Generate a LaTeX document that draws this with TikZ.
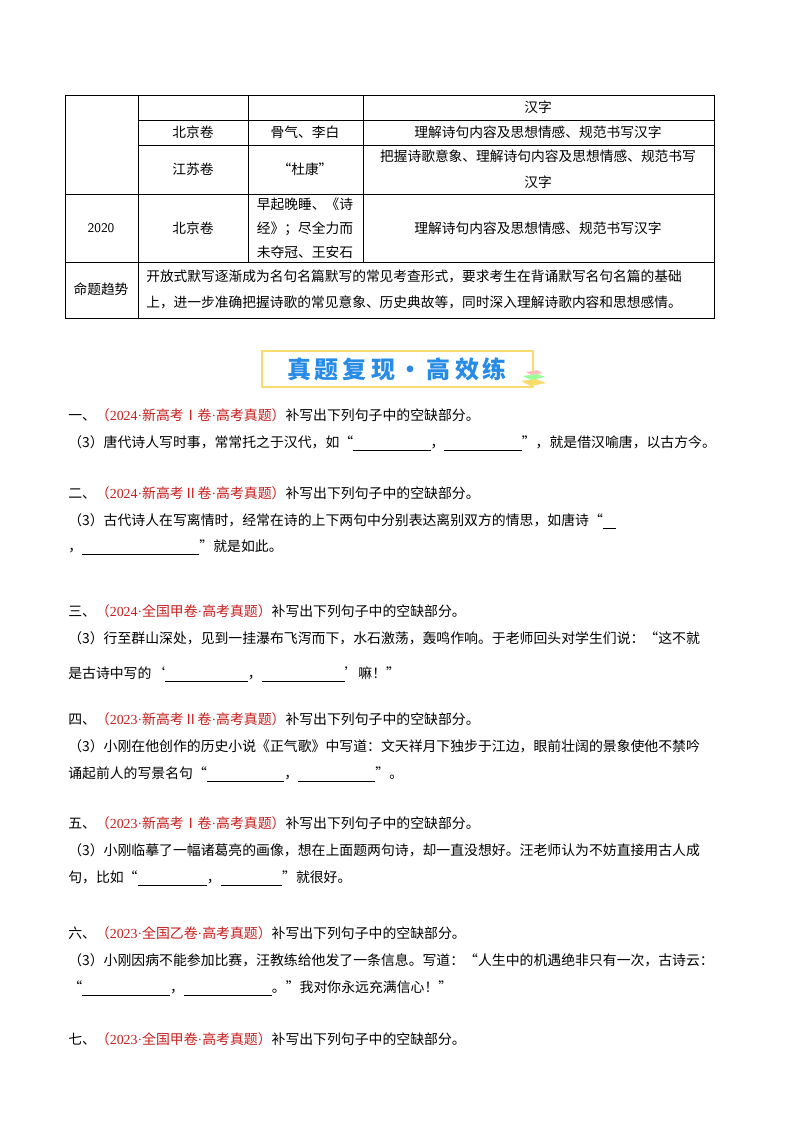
\documentclass[tikz,border=0pt]{standalone}
\usepackage{fontspec}
\setmainfont{Noto Sans CJK SC}
\newfontfamily\latinf{Liberation Serif}
\definecolor{redq}{RGB}{200,30,30}
\definecolor{bannerblue}{RGB}{40,140,230}
\definecolor{banneryel}{RGB}{250,220,110}
\newcommand{\blk}[1]{\rule[-2.5pt]{#1pt}{0.6pt}}
\newcommand{\dt}{{\latinf ·}}
\newcommand{\src}[3]{\textcolor{redq}{（{\latinf #1}\dt #2\dt 高考真题）}}
\begin{document}
\begin{tikzpicture}[x=0.75pt,y=-0.75pt,
  tab/.style={font=\fontsize{10.3pt}{12pt}\selectfont,inner sep=0pt,align=center},
  line/.style={anchor=base west,inner sep=0pt,font=\fontsize{10.4pt}{12pt}\selectfont},
  grid/.style={line width=0.6pt}]
\useasboundingbox[fill=white] (0,0) rectangle (800,1132);
% table
\draw[grid] (65,95) -- (714,95) -- (714,318) -- (65,318) -- cycle;
\draw[grid] (138,95) -- (138,318);
\draw[grid] (248,95) -- (248,262);
\draw[grid] (363,95) -- (363,262);
\draw[grid] (138,120) -- (714,120);
\draw[grid] (138,145) -- (714,145);
\draw[grid] (65,194) -- (714,194);
\draw[grid] (65,262) -- (714,262);
\node[tab] (c14) at (538,107) {汉字};
\node[tab] (c21) at (193,132) {北京卷};
\node[tab] (c22) at (305,132) {骨气、李白};
\node[tab] (c23) at (538,132) {理解诗句内容及思想情感、规范书写汉字};
\node[tab] (c31) at (193,169) {江苏卷};
\node[tab] (c32) at (305,169) {“杜康”};
\node[tab,text width=345pt,align=center,font=\fontsize{10.3pt}{19.5pt}\selectfont] (c33) at (538,169) {把握诗歌意象、理解诗句内容及思想情感、规范书写\\汉字};
\node[tab,font=\fontsize{10pt}{11pt}\selectfont\sffamily] (c40) at (101,228) {2020};
\node[tab] (c41) at (193,228) {北京卷};
\node[tab,font=\fontsize{10.3pt}{18pt}\selectfont] (c42) at (305,228) {早起晚睡、《诗\\经》；尽全力而\\未夺冠、王安石};
\node[tab] (c43) at (538,228) {理解诗句内容及思想情感、规范书写汉字};
\node[tab] (c51) at (101,289) {命题趋势};
\node[tab,anchor=west,align=left,font=\fontsize{10.3pt}{19.5pt}\selectfont] (c52) at (146,289) {开放式默写逐渐成为名句名篇默写的常见考查形式，要求考生在背诵默写名句名篇的基础\\上，进一步准确把握诗歌的常见意象、历史典故等，同时深入理解诗歌内容和思想感情。};
% banner
\draw[banneryel,fill=white,line width=0.8pt] (262,351) rectangle (533,387);
\node[font=\fontsize{18pt}{19pt}\selectfont\bfseries,text=bannerblue,inner sep=0pt] (ban) at (397,369) {真\,题\,复\,现\,·\,高\,效\,练};
\fill[banneryel] (521,381) -- (536,379) -- (546,383) -- (531,386) -- cycle;
\fill[green!40] (523,376) -- (537,374) -- (545,377) -- (531,380) -- cycle;
\fill[pink] (526,372) -- (537,370) -- (543,373) -- (531,375) -- cycle;
% questions
\node[line] (q1) at (68,420) {一、\src{2024}{新高考Ⅰ卷}{}补写出下列句子中的空缺部分。};
\node[line] (q1a) at (68,447) {（3）唐代诗人写时事，常常托之于汉代，如“\blk{58}，\blk{58}”，就是借汉喻唐，以古方今。};
\node[line] (q2) at (68,498) {二、\src{2024}{新高考Ⅱ卷}{}补写出下列句子中的空缺部分。};
\node[line] (q2a) at (68,525) {（3）古代诗人在写离情时，经常在诗的上下两句中分别表达离别双方的情思，如唐诗“\blk{10}};
\node[line] (q2b) at (68,551) {，\blk{88}”就是如此。};
\node[line] (q3) at (68,616) {三、\src{2024}{全国甲卷}{}补写出下列句子中的空缺部分。};
\node[line] (q3a) at (68,643) {（3）行至群山深处，见到一挂瀑布飞泻而下，水石激荡，轰鸣作响。于老师回头对学生们说：“这不就};
\node[line] (q3b) at (68,678) {是古诗中写的‘\blk{62}，\blk{62}’嘛！”};
\node[line] (q4) at (68,724) {四、\src{2023}{新高考Ⅱ卷}{}补写出下列句子中的空缺部分。};
\node[line] (q4a) at (68,751) {（3）小刚在他创作的历史小说《正气歌》中写道：文天祥月下独步于江边，眼前壮阔的景象使他不禁吟};
\node[line] (q4b) at (68,778) {诵起前人的写景名句“\blk{58}，\blk{58}”。};
\node[line] (q5) at (68,828) {五、\src{2023}{新高考Ⅰ卷}{}补写出下列句子中的空缺部分。};
\node[line] (q5a) at (68,855) {（3）小刚临摹了一幅诸葛亮的画像，想在上面题两句诗，却一直没想好。汪老师认为不妨直接用古人成};
\node[line] (q5b) at (68,882) {句，比如“\blk{52}，\blk{46}”就很好。};
\node[line] (q6) at (68,938) {六、\src{2023}{全国乙卷}{}补写出下列句子中的空缺部分。};
\node[line] (q6a) at (68,965) {（3）小刚因病不能参加比赛，汪教练给他发了一条信息。写道：“人生中的机遇绝非只有一次，古诗云：};
\node[line] (q6b) at (68,992) {“\blk{66}，\blk{66}。”我对你永远充满信心！”};
\node[line] (q7) at (68,1044) {七、\src{2023}{全国甲卷}{}补写出下列句子中的空缺部分。};
\end{tikzpicture}
\end{document}
